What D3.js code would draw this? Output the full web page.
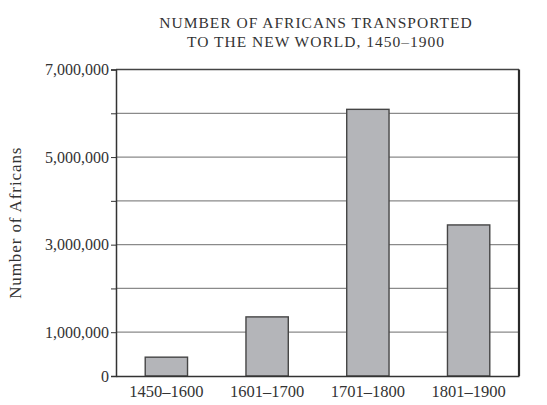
<!DOCTYPE html>
<html>
<head>
<meta charset="utf-8">
<script src="https://cdn.jsdelivr.net/npm/d3@7"></script>
<style>
  body { margin: 0; background: #fff; }
  svg text { font-family: "Liberation Serif", "DejaVu Serif", serif; fill: #333; }
</style>
</head>
<body>
<div id="chart"></div>
<script>
// values
const periods = ['1450-1600', '1601-1700', '1701-1800', '1801-1900']
const africans = [430000, 1350000, 6090000, 3450000]
const labelTicks = [0, 1000000, 3000000, 5000000, 7000000]
const allTicks = d3.range(0, 7000001, 1000000)

const width = 547
const height = 405
const margin = { top: 69.5, right: 28, bottom: 29, left: 116 }

const svg = d3.select('#chart')
    .append('svg')
    .attr('width', width)
    .attr('height', height)

const x = d3.scaleBand()
    .domain(periods)
    .range([margin.left, width - margin.right])
    .paddingInner(0.58)
    .paddingOuter(0.29)

const y = d3.scaleLinear()
    .domain([0, 7000000])
    .range([height - margin.bottom, margin.top])

// gridlines
svg.append('g')
    .selectAll('line')
    .data(allTicks.filter(d => d > 0 && d < 7000000))
    .join('line')
        .attr('x1', margin.left)
        .attr('x2', width - margin.right)
        .attr('y1', d => y(d))
        .attr('y2', d => y(d))
        .attr('stroke', '#8a8a8a')
        .attr('stroke-width', 1.2)

// top border
svg.append('line')
    .attr('x1', margin.left)
    .attr('x2', width - margin.right)
    .attr('y1', y(7000000))
    .attr('y2', y(7000000))
    .attr('stroke', '#444')
    .attr('stroke-width', 1.3)

// right border
svg.append('line')
    .attr('x1', width - margin.right)
    .attr('x2', width - margin.right)
    .attr('y1', y(7000000))
    .attr('y2', y(0))
    .attr('stroke', '#2a2a2a')
    .attr('stroke-width', 2.2)

// bars
svg.append('g')
    .selectAll('rect')
    .data(africans)
    .join('rect')
        .attr('x', (d, i) => x(periods[i]))
        .attr('y', d => y(d))
        .attr('width', x.bandwidth())
        .attr('height', d => y(0) - y(d))
        .attr('fill', '#b4b5b9')
        .attr('stroke', '#454545')
        .attr('stroke-width', 1.4)

function yAxis(g) {
    g.attr('transform', `translate(${margin.left},0)`)
        .call(d3.axisLeft(y)
            .tickValues(allTicks)
            .tickSize(5)
            .tickPadding(2)
            .tickFormat(d => labelTicks.includes(d) ? d3.format(',')(d) : ''))
        .attr('font-size', '16px')
    g.select('.domain').attr('stroke', '#333').attr('stroke-width', 1.5)
    g.selectAll('.tick line').attr('stroke', '#333')
}

function xAxis(g) {
    g.attr('transform', `translate(0,${y(0)})`)
        .call(d3.axisBottom(x).tickSize(0).tickPadding(9).tickFormat(d => d.replace('-', '\u2013')))
        .attr('font-size', '16.5px')
    g.select('.domain').attr('stroke', '#333').attr('stroke-width', 1.5)
}

svg.append('g').call(xAxis)
svg.append('g').call(yAxis)
svg.selectAll('.tick text').attr('fill', '#333')

// title
const title = svg.append('text')
    .attr('text-anchor', 'middle')
    .attr('font-size', '15.5px')
    .attr('letter-spacing', '1px')
title.append('tspan').attr('x', 316).attr('y', 28).text('NUMBER OF AFRICANS TRANSPORTED')
title.append('tspan').attr('x', 316).attr('y', 47).text('TO THE NEW WORLD, 1450\u20131900')

// y axis label
svg.append('text')
    .attr('transform', `translate(21,${(y(0) + y(7000000)) / 2}) rotate(-90)`)
    .attr('text-anchor', 'middle')
    .attr('font-size', '17px')
    .attr('letter-spacing', '0.9px')
    .text('Number of Africans')
</script>
</body>
</html>
